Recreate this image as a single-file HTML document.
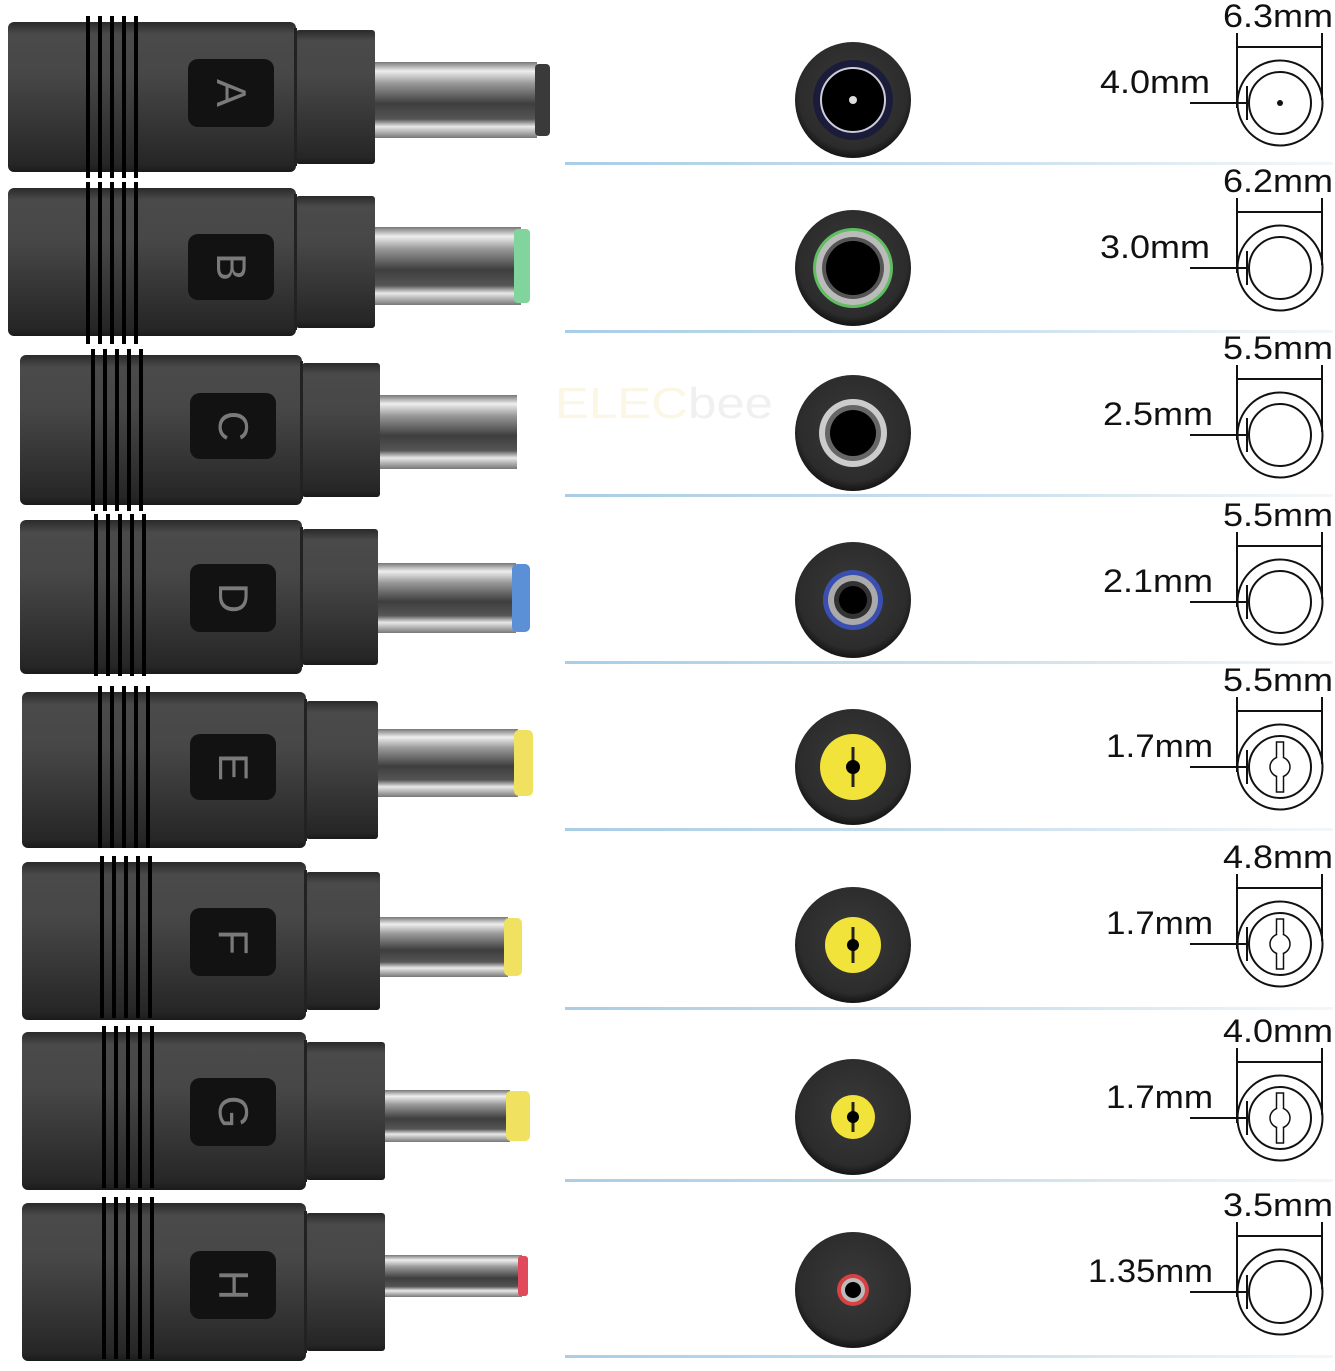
<!DOCTYPE html>
<html><head><meta charset="utf-8"><style>
html,body{margin:0;padding:0;background:#fff;}
svg{display:block;}
text{font-family:"Liberation Sans",sans-serif;}
</style></head><body>
<svg width="1335" height="1371" viewBox="0 0 1335 1371" xmlns="http://www.w3.org/2000/svg">
<defs>
<linearGradient id="bg" x1="0" y1="0" x2="0" y2="1">
<stop offset="0" stop-color="#2a2a2a"/><stop offset="0.08" stop-color="#4a4a4a"/><stop offset="0.35" stop-color="#474747"/><stop offset="0.7" stop-color="#343434"/><stop offset="0.95" stop-color="#262626"/><stop offset="1" stop-color="#1a1a1a"/>
</linearGradient>
<linearGradient id="pg" x1="0" y1="0" x2="0" y2="1">
<stop offset="0" stop-color="#777"/><stop offset="0.12" stop-color="#eee"/><stop offset="0.28" stop-color="#999"/><stop offset="0.55" stop-color="#3e3e3e"/><stop offset="0.75" stop-color="#555"/><stop offset="0.85" stop-color="#e8e8e8"/><stop offset="1" stop-color="#777"/>
</linearGradient>
<linearGradient id="sep" x1="0" y1="0" x2="1" y2="0">
<stop offset="0" stop-color="#a9cde6"/><stop offset="0.6" stop-color="#cfe2ef"/><stop offset="1" stop-color="#f4f7f9"/>
</linearGradient>
<radialGradient id="face" cx="0.5" cy="0.45" r="0.55">
<stop offset="0" stop-color="#3a3a3a"/><stop offset="0.85" stop-color="#2c2c2c"/><stop offset="1" stop-color="#141414"/>
</radialGradient>
<g id="ridges">
<rect x="86" y="-6" width="4" height="162" fill="#000"/>
<rect x="98" y="-6" width="4" height="162" fill="#000"/>
<rect x="110" y="-6" width="4" height="162" fill="#000"/>
<rect x="122" y="-6" width="4" height="162" fill="#000"/>
<rect x="134" y="-6" width="4" height="162" fill="#000"/>
</g>
<g id="dim">
<line x1="1237" y1="-70" x2="1237" y2="5" stroke="#111" stroke-width="2"/>
<line x1="1322" y1="-70" x2="1322" y2="-3" stroke="#111" stroke-width="2"/>
<line x1="1237" y1="-56" x2="1322" y2="-56" stroke="#111" stroke-width="2"/>
<circle cx="1280" cy="0" r="42.5" fill="none" stroke="#111" stroke-width="2"/>
<circle cx="1280" cy="0" r="31" fill="none" stroke="#111" stroke-width="2"/>
<line x1="1190" y1="0" x2="1247" y2="0" stroke="#111" stroke-width="2"/>
<line x1="1247" y1="-17" x2="1247" y2="17" stroke="#111" stroke-width="2"/>
</g>
<g id="slot">
<rect x="1276.5" y="-25" width="7" height="50" fill="#fff" stroke="#111" stroke-width="1.5"/>
<circle cx="1280" cy="0" r="10" fill="#fff" stroke="#111" stroke-width="1.5"/>
<rect x="1277.3" y="-12" width="5.4" height="24" fill="#fff"/>
</g>
</defs>
<rect width="1335" height="1371" fill="#fff"/>

<rect x="565" y="162" width="768" height="3" fill="url(#sep)"/>
<rect x="565" y="330" width="768" height="3" fill="url(#sep)"/>
<rect x="565" y="494" width="768" height="3" fill="url(#sep)"/>
<rect x="565" y="661" width="768" height="3" fill="url(#sep)"/>
<rect x="565" y="828" width="768" height="3" fill="url(#sep)"/>
<rect x="565" y="1007" width="768" height="3" fill="url(#sep)"/>
<rect x="565" y="1179" width="768" height="3" fill="url(#sep)"/>
<rect x="565" y="1355" width="768" height="3" fill="url(#sep)"/>

<text x="555" y="418" font-size="44" fill="#fbf7e4" textLength="218" lengthAdjust="spacingAndGlyphs">ELEC<tspan fill="#f0f0f0">bee</tspan></text>

<g transform="translate(0,22)">
<rect x="8" y="0" width="288" height="150" rx="6" fill="url(#bg)"/>
<rect x="296" y="8" width="79" height="134" rx="3" fill="url(#bg)"/>
<rect x="294" y="6" width="3" height="138" fill="#222"/>
<use href="#ridges"/>
<rect x="188" y="37" width="86" height="68" rx="10" fill="#121212"/>
<text x="0" y="0" font-size="42" fill="#7a7a7a" text-anchor="middle" transform="translate(231,71) rotate(90)" dy="14">A</text>
<rect x="375" y="40" width="162" height="76" fill="url(#pg)"/>
<rect x="535" y="42" width="15" height="72" rx="4" fill="#3a3a3a"/>
</g>
<g transform="translate(0,188)">
<rect x="8" y="0" width="288" height="148" rx="6" fill="url(#bg)"/>
<rect x="296" y="8" width="79" height="132" rx="3" fill="url(#bg)"/>
<rect x="294" y="6" width="3" height="136" fill="#222"/>
<use href="#ridges"/>
<rect x="188" y="46" width="86" height="66" rx="10" fill="#121212"/>
<text x="0" y="0" font-size="42" fill="#7a7a7a" text-anchor="middle" transform="translate(231,79) rotate(90)" dy="14">B</text>
<rect x="375" y="39" width="146" height="78" fill="url(#pg)"/>
<rect x="514" y="41" width="16" height="74" rx="4" fill="#80d49c"/>
</g>
<g transform="translate(0,355)">
<rect x="20" y="0" width="282" height="150" rx="6" fill="url(#bg)"/>
<rect x="302" y="8" width="78" height="134" rx="3" fill="url(#bg)"/>
<rect x="300" y="6" width="3" height="138" fill="#222"/>
<use href="#ridges" transform="translate(5,0)"/>
<rect x="190" y="38" width="86" height="66" rx="10" fill="#121212"/>
<text x="0" y="0" font-size="42" fill="#7a7a7a" text-anchor="middle" transform="translate(233,71) rotate(90)" dy="14">C</text>
<rect x="380" y="40" width="137" height="74" fill="url(#pg)"/>
</g>
<g transform="translate(0,520)">
<rect x="20" y="0" width="282" height="154" rx="6" fill="url(#bg)"/>
<rect x="302" y="9" width="76" height="136" rx="3" fill="url(#bg)"/>
<rect x="300" y="7" width="3" height="140" fill="#222"/>
<use href="#ridges" transform="translate(8,0)"/>
<rect x="190" y="44" width="86" height="68" rx="10" fill="#121212"/>
<text x="0" y="0" font-size="42" fill="#7a7a7a" text-anchor="middle" transform="translate(233,78) rotate(90)" dy="14">D</text>
<rect x="378" y="43" width="138" height="70" fill="url(#pg)"/>
<rect x="512" y="44" width="18" height="68" rx="5" fill="#5b8fd6"/>
</g>
<g transform="translate(0,692)">
<rect x="22" y="0" width="284" height="156" rx="6" fill="url(#bg)"/>
<rect x="306" y="9" width="72" height="138" rx="3" fill="url(#bg)"/>
<rect x="304" y="7" width="3" height="142" fill="#222"/>
<use href="#ridges" transform="translate(12,0)"/>
<rect x="190" y="42" width="86" height="66" rx="10" fill="#121212"/>
<text x="0" y="0" font-size="42" fill="#7a7a7a" text-anchor="middle" transform="translate(233,75) rotate(90)" dy="14">E</text>
<rect x="378" y="37" width="140" height="68" fill="url(#pg)"/>
<rect x="514" y="38" width="19" height="66" rx="5" fill="#f0e260"/>
</g>
<g transform="translate(0,862)">
<rect x="22" y="0" width="284" height="158" rx="6" fill="url(#bg)"/>
<rect x="306" y="10" width="74" height="138" rx="3" fill="url(#bg)"/>
<rect x="304" y="8" width="3" height="142" fill="#222"/>
<use href="#ridges" transform="translate(14,0)"/>
<rect x="190" y="46" width="86" height="68" rx="10" fill="#121212"/>
<text x="0" y="0" font-size="42" fill="#7a7a7a" text-anchor="middle" transform="translate(233,80) rotate(90)" dy="14">F</text>
<rect x="380" y="55" width="128" height="60" fill="url(#pg)"/>
<rect x="504" y="56" width="18" height="58" rx="5" fill="#f0e260"/>
</g>
<g transform="translate(0,1032)">
<rect x="22" y="0" width="284" height="158" rx="6" fill="url(#bg)"/>
<rect x="306" y="10" width="79" height="138" rx="3" fill="url(#bg)"/>
<rect x="304" y="8" width="3" height="142" fill="#222"/>
<use href="#ridges" transform="translate(16,0)"/>
<rect x="190" y="46" width="86" height="68" rx="10" fill="#121212"/>
<text x="0" y="0" font-size="42" fill="#7a7a7a" text-anchor="middle" transform="translate(233,80) rotate(90)" dy="14">G</text>
<rect x="385" y="58" width="125" height="52" fill="url(#pg)"/>
<rect x="506" y="59" width="24" height="50" rx="5" fill="#f0e260"/>
</g>
<g transform="translate(0,1203)">
<rect x="22" y="0" width="284" height="158" rx="6" fill="url(#bg)"/>
<rect x="306" y="10" width="79" height="138" rx="3" fill="url(#bg)"/>
<rect x="304" y="8" width="3" height="142" fill="#222"/>
<use href="#ridges" transform="translate(16,0)"/>
<rect x="190" y="48" width="86" height="68" rx="10" fill="#121212"/>
<text x="0" y="0" font-size="42" fill="#7a7a7a" text-anchor="middle" transform="translate(233,82) rotate(90)" dy="14">H</text>
<rect x="385" y="52" width="137" height="42" fill="url(#pg)"/>
<rect x="518" y="53" width="10" height="40" rx="3" fill="#e04a5a"/>
</g>

<g transform="translate(853,100)">
<circle r="58" fill="url(#face)"/>
<circle r="40" fill="#1a1c3a"/><circle r="32" fill="#000" stroke="#ccd" stroke-width="2"/>
<circle r="4" fill="#ddd"/>
</g>
<g transform="translate(853,268)">
<circle r="58" fill="url(#face)"/>
<circle r="40" fill="#5fbf60"/><circle r="37" fill="#bbb"/><circle r="31" fill="#555"/><circle r="27" fill="#000"/>
</g>
<g transform="translate(853,433)">
<circle r="58" fill="url(#face)"/>
<circle r="34" fill="#ccc"/><circle r="28" fill="#666"/><circle r="23" fill="#000"/>
</g>
<g transform="translate(853,600)">
<circle r="58" fill="url(#face)"/>
<circle r="30" fill="#3a4fb0"/><circle r="25" fill="#aaa"/><circle r="19" fill="#333"/><circle r="14" fill="#000"/>
</g>
<g transform="translate(853,767)">
<circle r="58" fill="url(#face)"/>
<circle r="33" fill="#f2e33a"/>
<rect x="-1.5" y="-20" width="3" height="40" fill="#222"/><circle r="7" fill="#000"/>
</g>
<g transform="translate(853,945)">
<circle r="58" fill="url(#face)"/>
<circle r="28" fill="#f2e33a"/>
<rect x="-1.5" y="-18" width="3" height="36" fill="#222"/><circle r="6" fill="#000"/>
</g>
<g transform="translate(853,1117)">
<circle r="58" fill="url(#face)"/>
<circle r="22" fill="#f2e33a"/>
<rect x="-1.5" y="-15" width="3" height="30" fill="#222"/><circle r="6" fill="#000"/>
</g>
<g transform="translate(853,1290)">
<circle r="58" fill="url(#face)"/>
<circle r="16" fill="#d94040"/><circle r="12" fill="#bbb"/><circle r="8" fill="#000"/>
</g>

<g font-size="32" fill="#111">
<g transform="translate(0,103)"><use href="#dim"/><circle cx="1280" cy="0" r="3" fill="#111"/>
<text x="1223" y="-76" textLength="110" lengthAdjust="spacingAndGlyphs">6.3mm</text><text x="1100" y="-10" textLength="110" lengthAdjust="spacingAndGlyphs">4.0mm</text></g>
<g transform="translate(0,268)"><use href="#dim"/>
<text x="1223" y="-76" textLength="110" lengthAdjust="spacingAndGlyphs">6.2mm</text><text x="1100" y="-10" textLength="110" lengthAdjust="spacingAndGlyphs">3.0mm</text></g>
<g transform="translate(0,435)"><use href="#dim"/>
<text x="1223" y="-76" textLength="110" lengthAdjust="spacingAndGlyphs">5.5mm</text><text x="1103" y="-10" textLength="110" lengthAdjust="spacingAndGlyphs">2.5mm</text></g>
<g transform="translate(0,602)"><use href="#dim"/>
<text x="1223" y="-76" textLength="110" lengthAdjust="spacingAndGlyphs">5.5mm</text><text x="1103" y="-10" textLength="110" lengthAdjust="spacingAndGlyphs">2.1mm</text></g>
<g transform="translate(0,767)"><use href="#dim"/><use href="#slot"/>
<text x="1223" y="-76" textLength="110" lengthAdjust="spacingAndGlyphs">5.5mm</text><text x="1106" y="-10" textLength="107" lengthAdjust="spacingAndGlyphs">1.7mm</text></g>
<g transform="translate(0,944)"><use href="#dim"/><use href="#slot"/>
<text x="1223" y="-76" textLength="110" lengthAdjust="spacingAndGlyphs">4.8mm</text><text x="1106" y="-10" textLength="107" lengthAdjust="spacingAndGlyphs">1.7mm</text></g>
<g transform="translate(0,1118)"><use href="#dim"/><use href="#slot"/>
<text x="1223" y="-76" textLength="110" lengthAdjust="spacingAndGlyphs">4.0mm</text><text x="1106" y="-10" textLength="107" lengthAdjust="spacingAndGlyphs">1.7mm</text></g>
<g transform="translate(0,1292)"><use href="#dim"/>
<text x="1223" y="-76" textLength="110" lengthAdjust="spacingAndGlyphs">3.5mm</text><text x="1088" y="-10" textLength="125" lengthAdjust="spacingAndGlyphs">1.35mm</text></g>
</g>
</svg>
</body></html>
